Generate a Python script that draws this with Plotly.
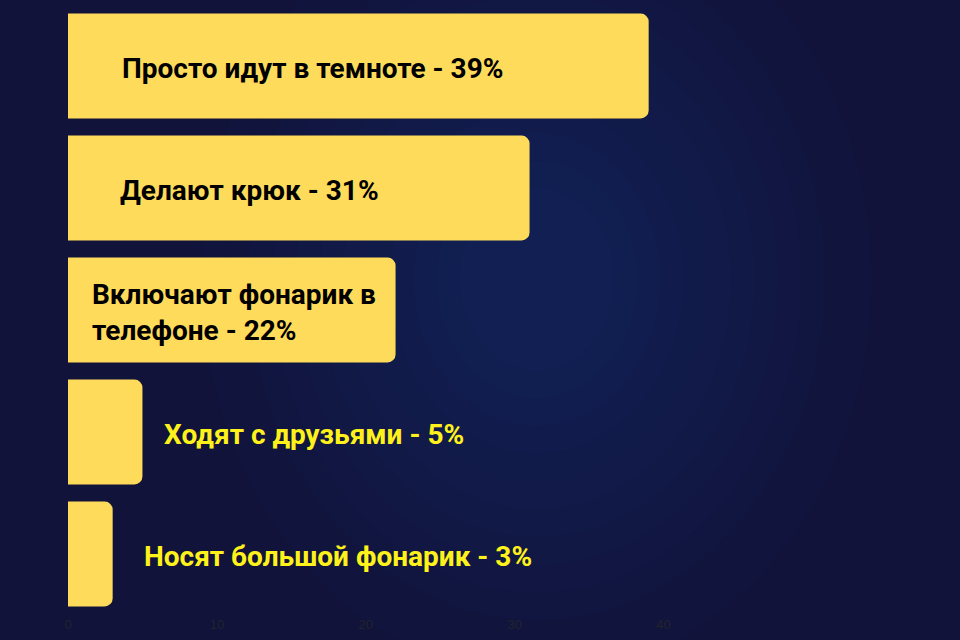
import plotly.graph_objects as go

# survey answers (top to bottom)
answers = [
    "Просто идут в темноте - 39%",
    "Делают крюк - 31%",
    "Включают фонарик в<br>телефоне - 22%",
    "Ходят с друзьями - 5%",
    "Носят большой фонарик - 3%",
]
percent = [39, 31, 22, 5, 3]
categories = ["a1", "a2", "a3", "a4", "a5"]
tick_vals = [0, 10, 20, 30, 40]

# label placement (pixels from the axis start) and colours
label_shift = [52, 50, 22, 94, 74]
label_color = ["#000000", "#000000", "#000000", "#FFF21A", "#FFF21A"]

fig = go.Figure()

# soft glow of the sky, built from stacked faint ellipses
for k in range(12):
    r = 0.5 - k * 0.035
    fig.add_shape(type="circle", xref="paper", yref="paper", layer="below",
                  x0=0.7 - r, x1=0.7 + r, y0=0.55 - r * 1.3, y1=0.55 + r * 1.3,
                  fillcolor="#3b5db0", opacity=0.025, line_width=0)

fig.add_trace(go.Bar(
    x=percent,
    y=categories,
    orientation="h",
    marker=dict(color="#FEDB5B", cornerradius=8, line_width=0),
    hoverinfo="skip",
))

for cat, txt, shift, col in zip(categories, answers, label_shift, label_color):
    fig.add_annotation(x=0, y=cat, text="<b>" + txt + "</b>", showarrow=False,
                       xanchor="left", yanchor="middle", xshift=shift, yshift=-2, align="left",
                       font=dict(family="Roboto", size=28, color=col))

fig.update_layout(
    width=960, height=640,
    paper_bgcolor="#11133a",
    plot_bgcolor="rgba(0,0,0,0)",
    margin=dict(l=68, r=222, t=5, b=25),
    bargap=0.14,
    showlegend=False,
    xaxis=dict(range=[0, 45], tickvals=tick_vals, showgrid=False, zeroline=False,
               showline=False, ticks="", tickfont=dict(family="Liberation Sans", size=13, color="#23232e")),
    yaxis=dict(autorange="reversed", showticklabels=False, showgrid=False,
               zeroline=False, showline=False, ticks=""),
)

fig.write_html("out.html", config={"displayModeBar": False},
               post_script="document.body.style.margin='0';document.body.style.background='#11133a';")
